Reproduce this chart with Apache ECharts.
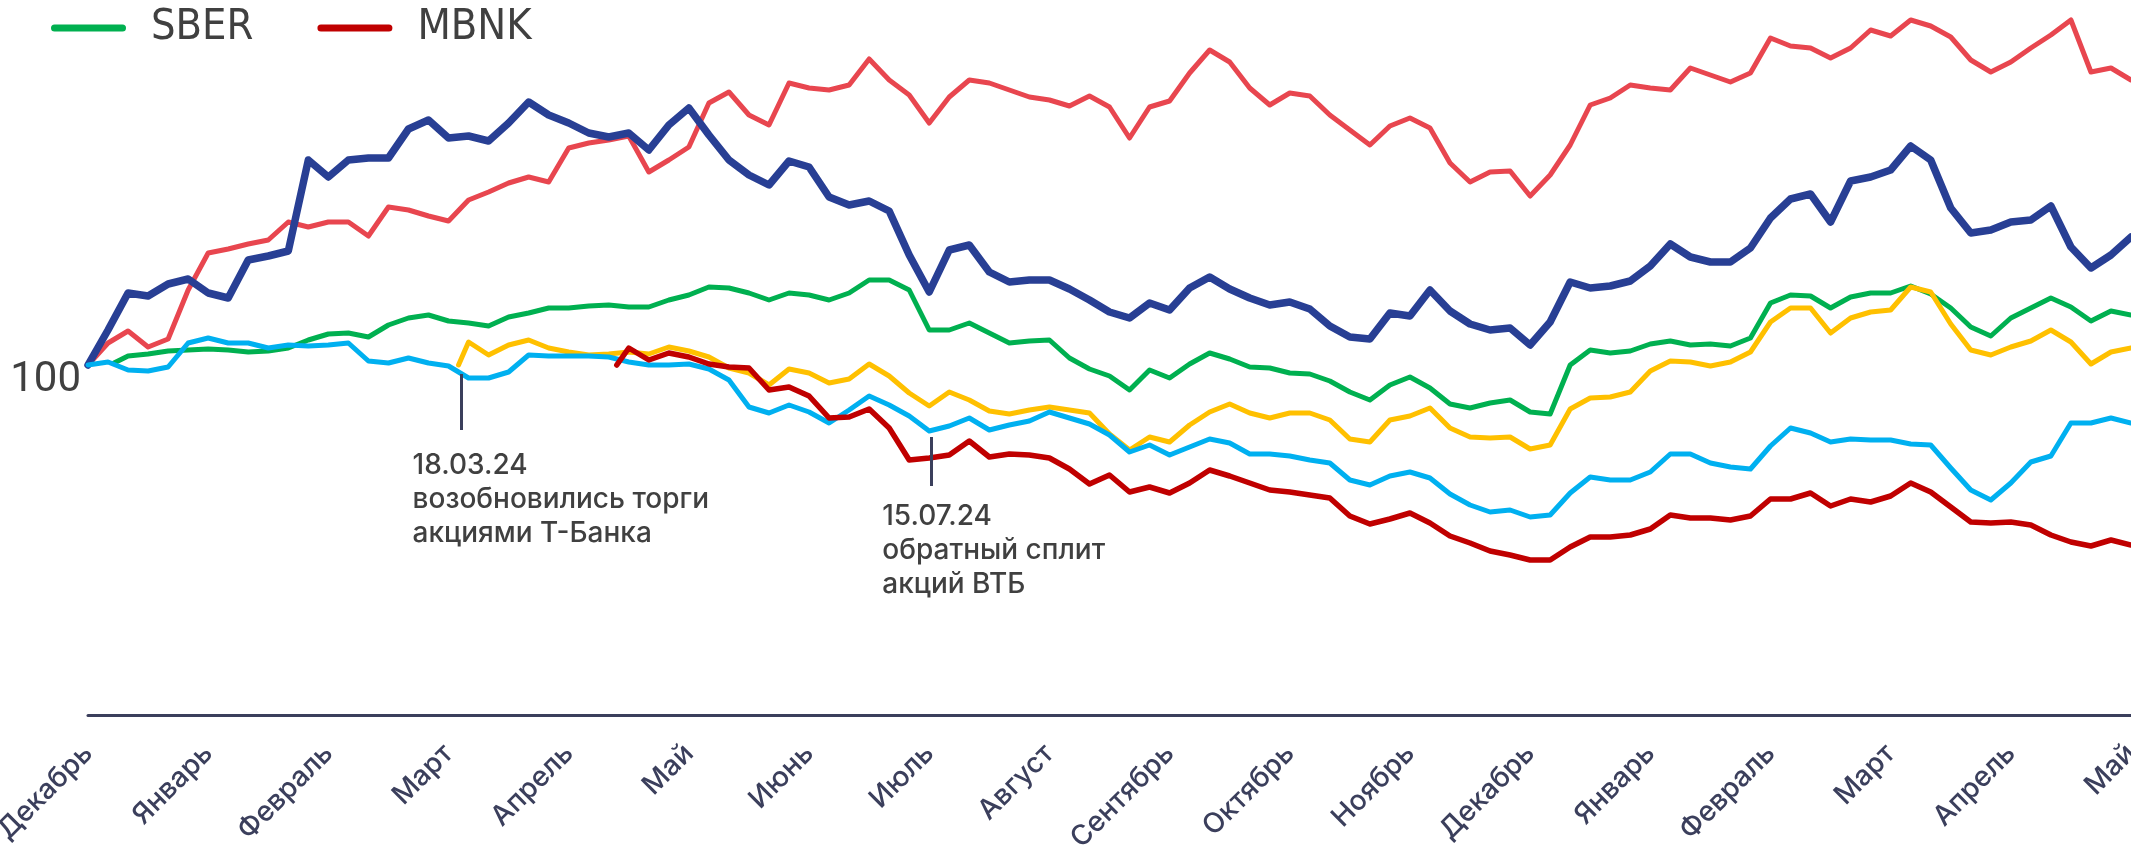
<!DOCTYPE html>
<html>
<head>
<meta charset="utf-8">
<script src="https://cdn.jsdelivr.net/npm/echarts@6/dist/echarts.min.js"></script>
<style>
html, body { margin: 0; padding: 0; background: #fff; }
#chart { width: 2131px; height: 845px; }
</style>
</head>
<body>
<div id="chart"></div>
<script>
// подписи оси: один месяц = 6 шагов
const months = ['Декабрь', 'Январь', 'Февраль', 'Март', 'Апрель', 'Май', 'Июнь', 'Июль', 'Август',
  'Сентябрь', 'Октябрь', 'Ноябрь', 'Декабрь', 'Январь', 'Февраль', 'Март', 'Апрель', 'Май'];

// индекс, старт = 100
const bspb = [100,107,114.4,113.8,116.2,117.2,114.4,113.4,121,121.8,
  122.8,141,137.6,141,141.4,141.4,147.2,149,145.4,145.8,
  144.8,148.4,152.6,150,148.4,146.4,145.6,146.4,143,148,
  151.4,146,141,138,136,140.8,139.6,133.6,132,132.8,
  130.8,122,114.6,123,124,118.6,116.6,117,117,115.2,
  113,110.6,109.4,112.4,111,115.4,117.6,115.2,113.4,112,
  112.6,111.2,107.8,105.6,105.2,110.4,109.8,115,110.8,108.2,
  107,107.4,104,108.6,116.6,115.4,115.8,116.8,119.8,124.2,
  121.6,120.6,120.6,123.4,129.4,133.2,134.2,128.6,136.8,137.6,
  139,143.8,141,131.4,126.4,127,128.6,129,131.8,123.6,
  119.4,122,125.6];

const svcb = [100,104.4,106.8,103.6,105.2,115,122.4,123.2,124.2,125,
  128.6,127.6,128.6,128.6,125.8,131.6,131,129.8,128.8,133,
  134.6,136.4,137.6,136.6,143.4,144.4,145,145.8,138.6,141,
  143.6,152.4,154.6,150,148,156.4,155.4,155,156,161.2,
  157,154,148.4,153.6,157,156.4,155,153.6,153,151.8,
  153.8,151.6,145.4,151.6,152.8,158.4,163,160.6,155.4,152,
  154.4,153.8,150,147,144,147.8,149.4,147.4,140.4,136.6,
  138.6,138.8,133.8,138,144,152,153.4,156,155.4,155,
  159.4,158,156.6,158.4,165.4,163.8,163.4,161.4,163.4,167,
  165.8,169,167.8,165.6,161,158.6,160.6,163.4,166,169,
  158.6,159.4,157];

const sberFrom = 1.3;
const sber = [100.4,101.8,102.2,102.8,103,103.2,103,102.6,102.8,
  103.4,105,106.2,106.4,105.6,108,109.4,110,108.8,108.4,
  107.8,109.6,110.4,111.4,111.4,111.8,112,111.6,111.6,113,
  114,115.6,115.4,114.4,113,114.4,114,113,114.4,117,
  117,115,107,107,108.4,106.4,104.4,104.8,105,101.4,
  99.2,97.8,95,99,97.4,100.2,102.4,101.2,99.6,99.4,
  98.4,98.2,96.8,94.6,93,96,97.6,95.4,92.2,91.4,
  92.4,93,90.6,90.2,100,103,102.4,102.8,104.2,104.8,
  104,104.2,103.8,105.4,112.4,114,113.8,111.4,113.6,114.4,
  114.4,115.8,114.2,111.4,107.6,105.8,109.4,111.4,113.4,111.6,
  108.8,110.8,110];

const vtbr = [100,100.6,99,98.8,99.6,104.4,105.4,104.4,104.4,103.4,
  104,103.8,104,104.4,100.8,100.4,101.4,100.4,99.8,97.4,
  97.4,98.6,102,101.8,101.8,101.8,101.6,100.6,100,100,
  100.2,99.2,97,91.6,90.4,92,90.6,88.4,91,93.8,
  92,89.8,86.8,87.8,89.4,87,88,88.8,90.6,89.4,
  88.2,86,82.6,84,82,83.6,85.2,84.4,82.2,82.2,
  81.8,81,80.4,77,76,77.8,78.6,77.4,74.2,72,
  70.6,71,69.6,70,74.4,77.6,77,77,78.6,82.2,
  82.2,80.4,79.6,79.2,83.8,87.4,86.4,84.6,85.2,85,
  85,84.2,84,79.4,75,73,76.4,80.6,81.8,88.4,
  88.4,89.4,88.4];

// Т-Банк: торги возобновились 18.03.24
const tFrom = 18.5;
const tcs = [100,
  104.6,102,104,105,103.4,102.6,102,102.2,102.6,102.2,
  103.6,102.8,101.6,99.4,98.4,96,99.2,98.4,96.4,97.2,
  100.2,97.8,94.4,91.8,94.6,93,90.8,90.2,91,91.6,
  91,90.4,86.2,83,85.6,84.6,88,90.6,92.2,90.4,
  89.4,90.4,90.4,89,85.2,84.6,89,89.8,91.4,87.4,
  85.6,85.4,85.6,83.2,84,91.2,93.4,93.6,94.6,98.8,
  100.8,100.6,99.8,100.6,102.6,108.6,111.4,111.4,106.4,109.4,
  110.6,111,115.6,114.6,108.2,103,102,103.6,104.8,107,
  104.6,100.2,102.6,103.4];

const mbnkFrom = 26.4;
const mbnk = [100,
  103.4,101,102.4,101.6,100.2,99.6,99.4,95,95.6,93.8,
  89.4,89.6,91.2,87.4,81,81.4,82,84.8,81.6,82.2,
  82,81.4,79.2,76.2,78,74.6,75.6,74.4,76.4,79,
  77.8,76.4,75,74.6,74,73.4,69.8,68.2,69.2,70.4,
  68.4,65.8,64.4,62.8,62,61,61,63.6,65.6,65.6,
  66,67.2,70,69.4,69.4,69,69.8,73.2,73.2,74.4,
  71.8,73.2,72.6,73.8,76.4,74.6,71.6,68.6,68.4,68.6,
  68,66,64.6,63.8,65,64];

const notes = [
  { at: 18.65, top: 98.2, bottom: 87, dy: 19, text: '18.03.24\nвозобновились торги\nакциями Т-Банка' },
  { at: 42.1, top: 85.6, bottom: 75.8, dy: 14, text: '15.07.24\nобратный сплит\nакций ВТБ' }
];

// первая точка может стоять между шагами (начало торгов)
function pairs(vals, from) {
  let out = [[from, vals[0]]];
  let first = Math.floor(from) + 1;
  for (let k = 1; k < vals.length; k++) out.push([first + k - 1, vals[k]]);
  return out;
}

function line(name, color, width, data) {
  return {
    name: name,
    type: 'line',
    data: data,
    showSymbol: false,
    symbol: 'none',
    color: color,
    lineStyle: { color: color, width: width, cap: 'round', join: 'round' },
    emphasis: { disabled: true },
    silent: true
  };
}

const textDark = '#404040';
const axisDark = '#3b3f5c';

let myChart = echarts.init(document.getElementById('chart'));

let mbnkSeries = line('MBNK', '#c00000', 5.5, pairs(mbnk, mbnkFrom));
mbnkSeries.markLine = {
  silent: true,
  symbol: 'none',
  label: { show: false },
  lineStyle: { color: axisDark, width: 3, type: 'solid' },
  data: notes.map(n => [{ coord: [n.at, n.top] }, { coord: [n.at, n.bottom] }])
};
mbnkSeries.markPoint = {
  silent: true,
  symbol: 'circle',
  symbolSize: 0,
  data: notes.map(n => ({
    coord: [n.at, n.bottom],
    label: {
      show: true,
      position: 'inside',
      align: 'left',
      verticalAlign: 'top',
      offset: [-49, n.dy],
      formatter: n.text,
      color: textDark,
      fontFamily: 'Inter',
      fontWeight: 500,
      fontSize: 28,
      lineHeight: 34
    }
  }))
};

myChart.setOption({
  animation: false,
  backgroundColor: '#fff',
  legend: {
    data: ['SBER', 'MBNK'],
    left: 46,
    top: 0,
    icon: 'path://M3.5,0 L71.5,0 A3.5,3.5 0 0 1 71.5,7 L3.5,7 A3.5,3.5 0 0 1 3.5,0 Z',
    itemWidth: 75,
    itemHeight: 7,
    itemGap: 64,
    selectedMode: false,
    textStyle: {
      color: textDark,
      fontFamily: "'Liberation Sans Narrow', 'DejaVu Sans Condensed', sans-serif",
      fontSize: 43,
      lineHeight: 46,
      padding: [0, 0, 0, 20]
    }
  },
  grid: { left: 88, right: 0, top: 15, bottom: 130, containLabel: false, outerBoundsMode: 'none' },
  xAxis: {
    type: 'value',
    min: 0,
    max: 102,
    interval: 6,
    axisLine: { onZero: false, lineStyle: { color: axisDark, width: 3 } },
    axisTick: { show: false },
    splitLine: { show: false },
    axisLabel: {
      rotate: 45,
      margin: 34,
      color: axisDark,
      fontFamily: 'Inter',
      fontWeight: 500,
      fontSize: 28,
      showMinLabel: true,
      showMaxLabel: true,
      hideOverlap: false,
      formatter: v => months[Math.round(v / 6)]
    }
  },
  yAxis: {
    type: 'value',
    min: 30,
    max: 170,
    interval: 10,
    axisLine: { show: false },
    axisTick: { show: false },
    splitLine: { show: false },
    axisLabel: {
      margin: 7,
      color: textDark,
      fontFamily: 'Roboto',
      fontSize: 42,
      verticalAlign: 'top',
      lineHeight: 30,
      formatter: v => (v === 100 ? '100' : '')
    }
  },
  series: [
    line('SVCB', '#e8464f', 5, pairs(svcb, 0)),
    line('BSPB', '#283f94', 7.5, pairs(bspb, 0)),
    line('SBER', '#00b050', 5, pairs(sber, sberFrom)),
    line('T', '#ffc000', 5, pairs(tcs, tFrom)),
    line('VTBR', '#00b0f0', 5, pairs(vtbr, 0)),
    mbnkSeries
  ]
});
</script>
</body>
</html>
